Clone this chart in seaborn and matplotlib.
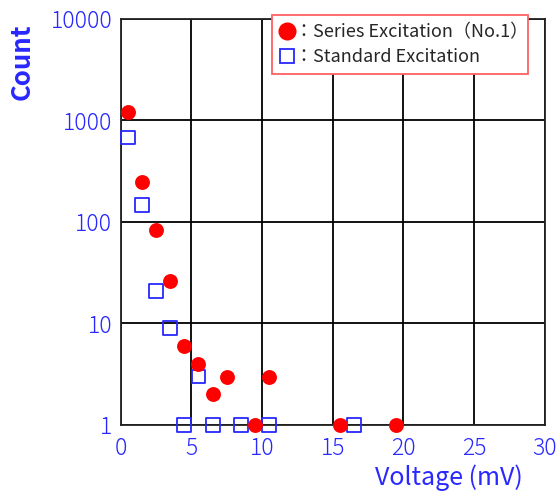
import matplotlib
matplotlib.use("Agg")
import matplotlib.pyplot as plt
import seaborn as sns
import pandas as pd
from matplotlib.lines import Line2D
from matplotlib.ticker import FixedLocator, LogLocator, NullFormatter

# Data
series_voltage = [0.5, 1.5, 2.5, 3.5, 4.5, 5.5, 6.5, 7.5, 9.5, 10.5, 15.5, 19.5]
series_count = [1200, 250, 84, 26, 6, 4, 2, 3, 1, 3, 1, 1]
standard_voltage = [0.5, 1.5, 2.5, 3.5, 4.5, 5.5, 6.5, 8.5, 10.5, 16.5]
standard_count = [680, 148, 21, 9, 1, 3, 1, 1, 1, 1]
x_ticks = [0, 5, 10, 15, 20, 25, 30]
y_ticks = [1, 10, 100, 1000, 10000]
y_tick_labels = ["1", "10", "100", "1000", "10000"]
legend_labels = ["：Series Excitation（No.1）", "：Standard Excitation"]

sns.set_style("white")
plt.rcParams['font.family'] = ['Noto Sans CJK JP', 'DejaVu Sans']

BLUE = "#2828ff"
RED = "#ff0000"

fig = plt.figure(figsize=(5.6, 4.93), dpi=100)
ax = fig.add_axes([0.2155, 0.138, 0.7575, 0.8235])

df_series = pd.DataFrame({"Voltage": series_voltage, "Count": series_count})
df_std = pd.DataFrame({"Voltage": standard_voltage, "Count": standard_count})

sns.scatterplot(data=df_std, x="Voltage", y="Count", ax=ax, marker="s", s=100,
                facecolor="none", edgecolor=BLUE, linewidth=1.3, clip_on=False, zorder=4)
sns.scatterplot(data=df_series, x="Voltage", y="Count", ax=ax, marker="o", s=115,
                color=RED, edgecolor=RED, linewidth=0, clip_on=False, zorder=5)

ax.set_yscale("log")
ax.set_xlim(0, 30)
ax.set_ylim(1, 10000)
ax.set_xticks(x_ticks)
ax.set_xticklabels([str(t) for t in x_ticks])
ax.xaxis.set_minor_locator(FixedLocator([2.5, 7.5, 12.5, 17.5, 22.5, 27.5]))
ax.set_yticks(y_ticks)
ax.set_yticklabels(y_tick_labels)
ax.yaxis.set_minor_locator(LogLocator(base=10, subs=range(2, 10)))
ax.yaxis.set_minor_formatter(NullFormatter())

ax.grid(True, which="major", color="black", linewidth=1.3)
for sp in ax.spines.values():
    sp.set_visible(True)
    sp.set_color("#222222")
    sp.set_linewidth(1.3)

ax.tick_params(axis="both", which="major", direction="inout", length=8, width=1.2,
               colors="black", labelcolor=BLUE, labelsize=16.5)
ax.tick_params(axis="x", which="major", pad=4)
ax.tick_params(axis="y", which="major", pad=2)
ax.tick_params(axis="both", which="minor", direction="inout", length=6, width=1.2,
               colors="black")
ax.tick_params(axis="x", which="both", top=False)
ax.tick_params(axis="y", which="both", right=False)
for lab in ax.get_xticklabels() + ax.get_yticklabels():
    lab.set_fontweight("light")

ax.set_xlabel("")
ax.set_ylabel("")
fig.text(0.040, 0.952, "Count", rotation=90, color=BLUE, fontsize=18.5,
         fontweight="bold", ha="center", va="top")
fig.text(0.934, 0.004, "Voltage (mV)", color=BLUE, fontsize=18, ha="right",
         va="bottom")

handles = [
    Line2D([], [], linestyle="none", marker="o", markersize=12, markerfacecolor=RED,
           markeredgecolor=RED),
    Line2D([], [], linestyle="none", marker="s", markersize=10, markerfacecolor="none",
           markeredgecolor=BLUE, markeredgewidth=1.3),
]
x0 = 272 / 560
w = (528 - 272) / 560
y_top = 1 - 15 / 493
leg = fig.legend(handles, legend_labels, loc="upper left",
                 bbox_to_anchor=(x0, y_top - 0.12, w, 0.12), bbox_transform=fig.transFigure,
                 mode="expand", frameon=True, fancybox=False, fontsize=13,
                 handlelength=0.8, handletextpad=0.05, borderpad=0.45,
                 labelspacing=0.4, borderaxespad=0)
leg.get_frame().set_edgecolor("#ff6060")
leg.get_frame().set_linewidth(1.3)
leg.get_frame().set_facecolor("white")
leg.get_frame().set_alpha(1)
leg.set_zorder(10)

fig.savefig("out.png", dpi=100)
